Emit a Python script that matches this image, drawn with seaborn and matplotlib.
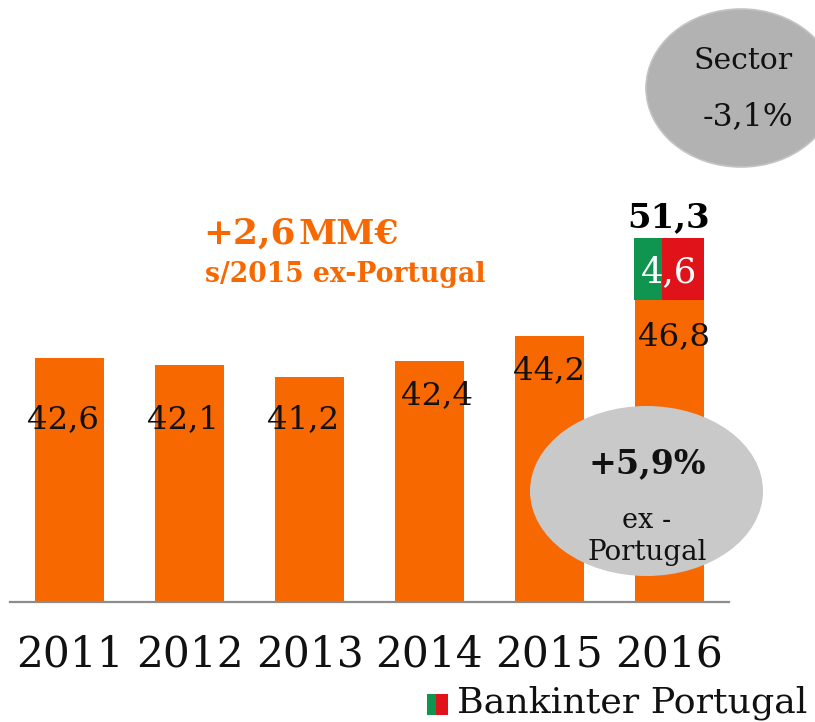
import matplotlib
matplotlib.use("Agg")
import matplotlib.pyplot as plt
import seaborn as sns
import pandas as pd
from matplotlib.patches import Ellipse, Rectangle

# data
years = ["2011", "2012", "2013", "2014", "2015", "2016"]
base_vals = [42.6, 42.1, 41.2, 42.4, 44.2, 46.8]
base_labels = ["42,6", "42,1", "41,2", "42,4", "44,2", "46,8"]
total_2016 = 51.3
total_label = "51,3"
portugal_label = "4,6"

ORANGE = "#f76800"
GREEN = "#109550"
RED = "#e0121a"
FONT = "DejaVu Serif"

sns.set_style("white")
plt.rcParams["font.family"] = [FONT, "DejaVu Sans"]

fig = plt.figure(figsize=(8.15, 7.22), dpi=100)
ax = fig.add_axes([10 / 815, 1 - 602 / 722, 719 / 815, 602 / 722])

df = pd.DataFrame({"year": years, "value": base_vals})
sns.barplot(data=df, x="year", y="value", color=ORANGE, width=0.575, saturation=1, linewidth=0, ax=ax)

# stacked part of 2016, green and red halves
ax.bar(4.821, total_2016 - base_vals[5], width=0.233, bottom=base_vals[5], color=GREEN, linewidth=0)
ax.bar(5.1125, total_2016 - base_vals[5], width=0.35, bottom=base_vals[5], color=RED, linewidth=0)

ax.set_xlim(-0.5, 5.5)
ax.set_ylim(24.9, 68.6)
ax.set_xlabel("")
ax.set_ylabel("")
ax.set_yticks([])
ax.tick_params(axis="x", length=0, labelsize=30.5, pad=23, labelcolor="#111111")
sns.despine(ax=ax, left=True)
ax.spines["bottom"].set_color("#8c8c8c")
ax.spines["bottom"].set_linewidth(1.6)
ax.patch.set_alpha(0)

# overlay in pixel coords for the notes
ov = fig.add_axes([0, 0, 1, 1], zorder=5)
ov.set_xlim(0, 815)
ov.set_ylim(722, 0)
ov.axis("off")

label_x = [63.5, 183.5, 303.5, 437, 549, 674]
label_y = [420, 420, 420, 396, 371, 337]
for i, lab in enumerate(base_labels):
    ov.text(label_x[i], label_y[i], lab, ha="center", va="center", fontsize=23.3, color="#111111")

ov.text(669, 218, total_label, ha="center", va="center", fontsize=24.5, fontweight="bold", color="black")
ov.text(669, 272, portugal_label, ha="center", va="center", fontsize=25.5, color="white")

ov.add_patch(Ellipse((741, 88), 190, 158, facecolor="#b2b2b2", edgecolor="#c4c4c4", linewidth=1.2, clip_on=True))
ov.text(793, 61, "Sector", ha="right", va="center", fontsize=21.5, color="#111111")
ov.text(793, 117, "-3,1%", ha="right", va="center", fontsize=22.7, color="#111111")

ov.add_patch(Ellipse((646.5, 491), 233, 170, facecolor="#c9c9c9", edgecolor="none"))
ov.text(647, 464, "+5,9%", ha="center", va="center", fontsize=24, fontweight="bold", color="#111111")
ov.text(647, 520, "ex -", ha="center", va="center", fontsize=19.5, color="#111111")
ov.text(647, 552, "Portugal", ha="center", va="center", fontsize=20, color="#111111")

ov.text(203, 234, "+2,6", ha="left", va="center", fontsize=25.8, fontweight="bold", color=ORANGE)
ov.text(298, 234, "MM€", ha="left", va="center", fontsize=24.8, fontweight="bold", color=ORANGE)
ov.text(205, 275, "s/2015 ex-Portugal", ha="left", va="center", fontsize=19.2, fontweight="bold", color=ORANGE)

# legend swatch
ov.add_patch(Rectangle((427, 694), 9, 21, facecolor=GREEN, edgecolor="none"))
ov.add_patch(Rectangle((436, 694), 12, 21, facecolor=RED, edgecolor="none"))
ov.text(457, 703, "Bankinter Portugal", ha="left", va="center", fontsize=26.2, color="#111111")

fig.savefig("out.png", dpi=100)
